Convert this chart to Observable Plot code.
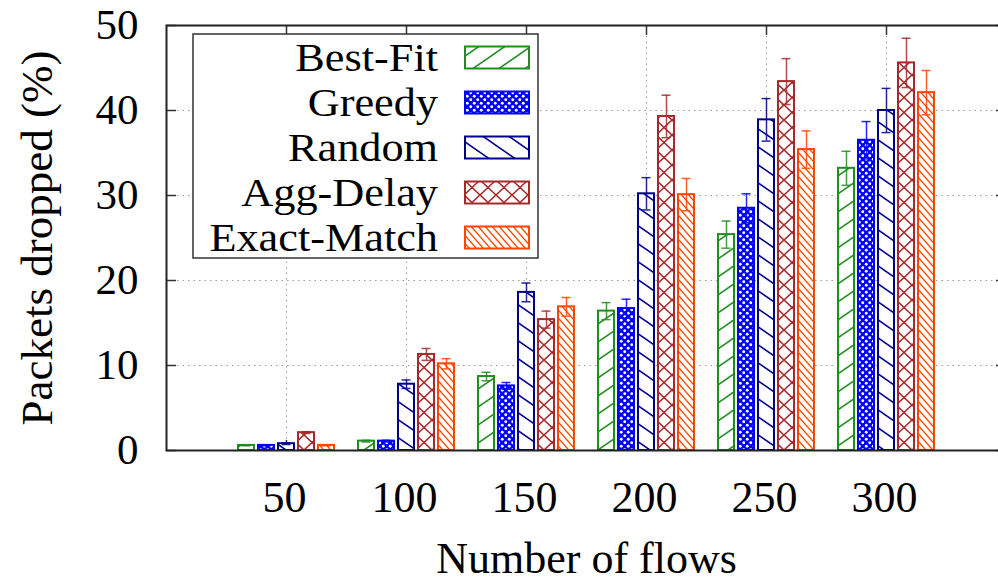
<!DOCTYPE html>
<html><head><meta charset="utf-8">
<script src="https://cdn.jsdelivr.net/npm/d3@7"></script>
<script src="https://cdn.jsdelivr.net/npm/@observablehq/plot@0.6"></script>
<style>
html,body{margin:0;padding:0;overflow:hidden;background:#fff}
#chart svg{display:block}
</style>
</head><body><div id="chart"></div>
<script>
// ---- data ----
const categories = ["50", "100", "150", "200", "250", "300"];
const seriesNames = ["Best-Fit", "Greedy", "Random", "Agg-Delay", "Exact-Match"];
const bestFit      = [0.6, 1.1, 8.7, 16.4, 25.4, 33.2];
const bestFitErr   = [0.05, 0.1, 0.5, 1.0, 1.6, 2.0];
const greedy       = [0.6, 1.1, 7.6, 16.7, 28.5, 36.5];
const greedyErr    = [0.05, 0.1, 0.4, 1.1, 1.7, 2.2];
const random       = [0.8, 7.8, 18.6, 30.2, 38.9, 40.0];
const randomErr    = [0.1, 0.5, 1.1, 1.9, 2.5, 2.6];
const aggDelay     = [2.1, 11.3, 15.4, 39.3, 43.4, 45.6];
const aggDelayErr  = [0.1, 0.7, 1.0, 2.5, 2.7, 2.9];
const exactMatch   = [0.6, 10.2, 16.9, 30.1, 35.4, 42.1];
const exactMatchErr= [0.05, 0.6, 1.1, 1.9, 2.2, 2.6];
const yTicks = [0, 10, 20, 30, 40, 50];
const gridValues = [10, 20, 30, 40];
const xLabel = "Number of flows";
const yLabel = "Packets dropped (%)";

const seriesColors = ["#228b22", "#0000ff", "#00008b", "#a52a2a", "#ff4500"];
const seriesValues = [bestFit, greedy, random, aggDelay, exactMatch];
const seriesErrors = [bestFitErr, greedyErr, randomErr, aggDelayErr, exactMatchErr];
const patIds = ["pat-bestfit", "pat-greedy", "pat-random", "pat-aggdelay", "pat-exact"];

const rows = [];
seriesNames.forEach((s, j) => categories.forEach((c, i) =>
  rows.push({s, j, i, c, v: seriesValues[j][i], e: seriesErrors[j][i]})));

// layout helpers (in x-index units: one category slot = 120px)
const slotPx = 120, unitPx = 8.5;
const groupStep = 20 / slotPx, barW = 16 / slotPx, capW = 9 / slotPx, tickLenX = 10 / slotPx, tickLenY = 10 / unitPx;
const xOf = d => d.i + (d.j - 2) * groupStep;
const font = "'Liberation Serif', 'Times New Roman', serif";
const gridStyle = {stroke: "#9a9a9a", strokeWidth: 1, strokeDasharray: "1.5,4"};
const catIdx = categories.map((c, i) => i);

const marks = [
  Plot.ruleY(gridValues, {y: d => d, ...gridStyle}),
  Plot.ruleX(catIdx, {x: d => d, y1: 0, y2: 50, ...gridStyle}),
  // inward ticks
  Plot.ruleY(yTicks, {y: d => d, x1: -1, x2: -1 + tickLenX, stroke: "#333", strokeWidth: 1.5}),
  Plot.ruleY(yTicks, {y: d => d, x1: 6 - tickLenX, x2: 6, stroke: "#333", strokeWidth: 1.5}),
  Plot.ruleX(catIdx, {x: d => d, y1: 50 - tickLenY, y2: 50, stroke: "#333", strokeWidth: 1.5}),
  Plot.ruleX(catIdx, {x: d => d, y1: 0, y2: tickLenY, stroke: "#333", strokeWidth: 1.5}),
];
seriesNames.forEach((s, j) => {
  const data = rows.filter(r => r.j === j);
  marks.push(Plot.rect(data, {
    x1: d => xOf(d) - barW / 2, x2: d => xOf(d) + barW / 2, y1: 0, y2: d => d.v,
    fill: `url(#${patIds[j]})`, stroke: seriesColors[j], strokeWidth: 2
  }));
});
seriesNames.forEach((s, j) => {
  const data = rows.filter(r => r.j === j);
  const st = {stroke: seriesColors[j], strokeWidth: 1.5, strokeOpacity: 0.85};
  marks.push(Plot.ruleX(data, {x: xOf, y1: d => d.v - d.e, y2: d => d.v + d.e, ...st}));
  marks.push(Plot.ruleY(data, {y: d => d.v + d.e, x1: d => xOf(d) - capW / 2, x2: d => xOf(d) + capW / 2, ...st}));
  marks.push(Plot.ruleY(data, {y: d => d.v - d.e, x1: d => xOf(d) - capW / 2, x2: d => xOf(d) + capW / 2, ...st}));
});
marks.push(
  Plot.text(categories, {x: (d, i) => i, y: 0, dy: 47, dx: -2, text: d => d, fontSize: 44, fill: "#000",
    textAnchor: "middle", lineAnchor: "middle"}),
  Plot.text(yTicks, {x: -1, y: d => d, dx: -28, textAnchor: "end", lineAnchor: "middle",
    text: d => String(d), fontSize: 43, fill: "#000"}),
  Plot.text([xLabel], {frameAnchor: "bottom", dy: 108, text: d => d, fontSize: 44, fill: "#000",
    textAnchor: "middle", lineAnchor: "middle"}),
  Plot.text([yLabel], {frameAnchor: "left", dx: -129, rotate: -90, text: d => d, fontSize: 45, fill: "#000",
    textAnchor: "middle", lineAnchor: "middle"}),
  Plot.frame({stroke: "#222", strokeWidth: 2})
);

const plot = Plot.plot({
  width: 1010, height: 581,
  marginLeft: 166, marginRight: 4, marginTop: 25, marginBottom: 131,
  x: {type: "linear", domain: [-1, 6], axis: null},
  y: {domain: [0, 50], axis: null},
  style: {fontFamily: font, background: "#fff", maxWidth: "none", overflow: "visible"},
  marks
});
document.getElementById("chart").appendChild(plot);

// ---- patterns & legend ----
const svg = d3.select(plot);
const defs = svg.insert("defs", ":first-child");
function pat(id, w, h) {
  const p = defs.append("pattern").attr("id", id).attr("patternUnits", "userSpaceOnUse")
    .attr("width", w).attr("height", h);
  p.append("rect").attr("width", w).attr("height", h).attr("fill", "#fff");
  return p;
}
{ // Best-Fit: sparse "/"
  const w = 26, h = 18, p = pat(patIds[0], w, h);
  p.append("path").attr("d", `M${-w},${2*h}L${2*w},${-h}M${-w},${h}L${w},${-h}M0,${2*h}L${2*w},0`)
    .attr("stroke", seriesColors[0]).attr("stroke-width", 1.5).attr("fill", "none");
}
{ // Greedy: blue with white dots
  const w = 7, h = 7, p = pat(patIds[1], w, h);
  p.select("rect").attr("fill", seriesColors[1]);
  p.append("circle").attr("cx", 1.75).attr("cy", 1.75).attr("r", 1.45).attr("fill", "#fff");
  p.append("circle").attr("cx", 5.25).attr("cy", 5.25).attr("r", 1.45).attr("fill", "#fff");
}
{ // Random: sparse "\"
  const w = 26, h = 18, p = pat(patIds[2], w, h);
  p.append("path").attr("d", `M${-w},${-h}L${2*w},${2*h}M${-w},0L${w},${2*h}M0,${-h}L${2*w},${h}`)
    .attr("stroke", seriesColors[2]).attr("stroke-width", 1.5).attr("fill", "none");
}
{ // Agg-Delay: crosshatch X
  const w = 16, h = 15, p = pat(patIds[3], w, h);
  p.append("path").attr("d", `M0,0L${w},${h}M0,${h}L${w},0`)
    .attr("stroke", seriesColors[3]).attr("stroke-width", 1.6).attr("fill", "none");
}
{ // Exact-Match: dense "\"
  const w = 7, h = 8, p = pat(patIds[4], w, h);
  p.append("path").attr("d", `M${-w},${-h}L${2*w},${2*h}M${-w},0L${w},${2*h}M0,${-h}L${2*w},${h}`)
    .attr("stroke", seriesColors[4]).attr("stroke-width", 1.3).attr("fill", "none");
}

const lg = svg.append("g").attr("font-family", font);
lg.append("rect").attr("x", 193).attr("y", 34).attr("width", 345).attr("height", 224)
  .attr("fill", "#fff").attr("stroke", "#333").attr("stroke-width", 1.5);
seriesNames.forEach((s, j) => {
  const cy = 57.5 + 45 * j;
  lg.append("text").attr("transform", `translate(438,${cy}) scale(1.08,1)`).attr("dy", "0.33em")
    .attr("text-anchor", "end").attr("font-size", 41).attr("fill", "#000").text(s);
  lg.append("rect").attr("x", 465).attr("y", cy - 11).attr("width", 64).attr("height", 22)
    .attr("fill", `url(#${patIds[j]})`).attr("stroke", seriesColors[j]).attr("stroke-width", 2);
});
</script>
</body></html>
